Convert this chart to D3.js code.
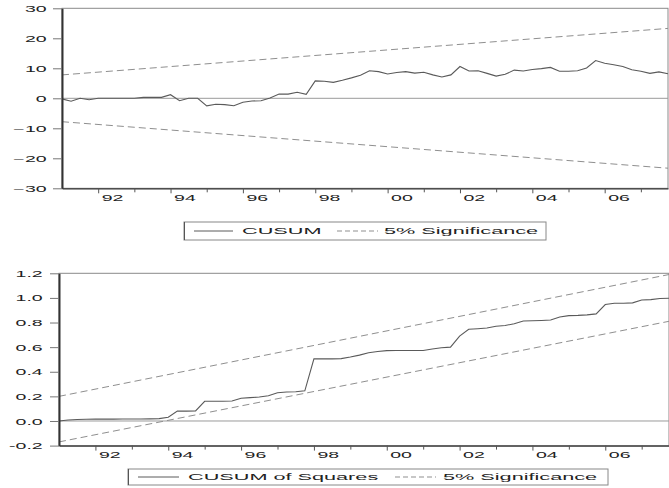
<!DOCTYPE html>
<html>
<head>
<meta charset="utf-8">
<script src="https://cdn.jsdelivr.net/npm/d3@7"></script>
<style>
  html, body { margin: 0; padding: 0; background: #fff; }
  svg { display: block; }
  text { font-family: "Liberation Sans", Arial, Helvetica, sans-serif; fill: #222; }
</style>
</head>
<body>
<svg id="chart" width="669" height="488"></svg>
<script>
// ---------------- data ----------------
const startYear = 1991;           // first quarter: 1991Q1
const nQuarters = 68;             // 1991Q1 .. 2007Q4
const dates = d3.range(nQuarters).map(i => startYear + i / 4);

const cusum = [
  -0.2, -1.0, 0.0, -0.5, 0.0, 0.0, 0.0, 0.0, 0.0, 0.3,
  0.3, 0.3, 1.2, -0.8, 0.0, 0.0, -2.5, -2.0, -2.1, -2.5,
  -1.3, -0.9, -0.8, 0.1, 1.4, 1.4, 2.0, 1.3, 5.8, 5.7,
  5.3, 6.0, 6.8, 7.7, 9.2, 8.9, 8.1, 8.6, 8.9, 8.4,
  8.7, 7.8, 7.1, 7.8, 10.6, 9.1, 9.2, 8.3, 7.4, 8.0,
  9.4, 9.1, 9.6, 9.9, 10.3, 9.0, 9.0, 9.2, 10.1, 12.6,
  11.7, 11.2, 10.6, 9.5, 9.0, 8.3, 8.8, 8.2
];
const cusumSq = [
  0.000, 0.008, 0.012, 0.014, 0.015, 0.015, 0.015, 0.016, 0.016, 0.016,
  0.017, 0.019, 0.030, 0.080, 0.080, 0.082, 0.160, 0.160, 0.160, 0.162,
  0.185, 0.190, 0.195, 0.205, 0.230, 0.235, 0.238, 0.245, 0.505, 0.505,
  0.505, 0.507, 0.520, 0.535, 0.555, 0.565, 0.572, 0.573, 0.573, 0.573,
  0.573, 0.585, 0.595, 0.600, 0.690, 0.745, 0.750, 0.755, 0.770, 0.776,
  0.790, 0.812, 0.815, 0.817, 0.820, 0.845, 0.856, 0.858, 0.862, 0.870,
  0.946, 0.957, 0.957, 0.960, 0.983, 0.986, 0.995, 0.997
];
// 5% significance bounds (straight lines: values at first and last date)
const sigDates = [dates[0], dates[nQuarters - 1]];
const cusumUpper = [7.8, 23.3];
const cusumLower = [-7.8, -23.3];
const sqUpper = [0.20, 1.19];
const sqLower = [-0.17, 0.81];

const cusumTicks = [-30, -20, -10, 0, 10, 20, 30];
const sqTicks = [-0.2, 0.0, 0.2, 0.4, 0.6, 0.8, 1.0, 1.2];
const majorYears = [1992, 1994, 1996, 1998, 2000, 2002, 2004, 2006];
const majorLabels = ["92", "94", "96", "98", "00", "02", "04", "06"];
const minorYears = [1993, 1995, 1997, 1999, 2001, 2003, 2005, 2007];

const legendTop = ["CUSUM", "5% Significance"];
const legendBottom = ["CUSUM of Squares", "5% Significance"];

// ---------------- drawing ----------------
const SX = 2.3;        // horizontal stretch of tick labels
const SXL = 2.55;      // horizontal stretch of legend labels
const FS = 8.5;        // font size
const svg = d3.select("#chart");

function stext(g, x, y, str, anchor) {
  return g.append("text")
    .attr("transform", `translate(${x},${y}) scale(${SXL},1)`)
    .attr("text-anchor", anchor || "start")
    .attr("font-size", FS)
    .attr("fill", "#2a2a2a")
    .text(str);
}

function panel(cfg) {
  const { left, right, top, bottom, yDomain, yTicks, yFmt, series, upper, lower, labelGap, legend } = cfg;
  const g = svg.append("g");
  const x = d3.scaleLinear().domain([dates[0], dates[nQuarters - 1]]).range([left, right]);
  const y = d3.scaleLinear().domain(yDomain).range([bottom, top]);

  // frame
  g.append("rect").attr("x", left).attr("y", top)
    .attr("width", right - left).attr("height", bottom - top)
    .attr("fill", "none").attr("stroke", "#8a8a8a").attr("stroke-width", 1);

  // zero line
  g.append("line").attr("x1", left).attr("x2", right)
    .attr("y1", y(0)).attr("y2", y(0))
    .attr("stroke", "#9a9a9a").attr("stroke-width", 1);

  // significance bands
  const sigLine = d3.line().x((d, i) => x(sigDates[i])).y(d => y(d));
  [upper, lower].forEach(arr => {
    g.append("path").datum(arr).attr("d", sigLine)
      .attr("fill", "none").attr("stroke", "#8f8f8f").attr("stroke-width", 1)
      .attr("stroke-dasharray", "7,4");
  });

  // main series
  const line = d3.line().x((d, i) => x(dates[i])).y(d => y(d));
  g.append("path").datum(series).attr("d", line)
    .attr("fill", "none").attr("stroke", "#5a5a5a").attr("stroke-width", 1.1);

  // y axis
  const ya = g.append("g").attr("transform", `translate(${left},0)`)
    .call(d3.axisLeft(y).tickValues(yTicks).tickSize(9).tickSizeOuter(0).tickFormat(yFmt));
  ya.select(".domain").attr("stroke", "#333").attr("stroke-width", 2);
  ya.selectAll(".tick line").attr("stroke", "#777");
  ya.selectAll(".tick text")
    .attr("x", -labelGap / SX).attr("dy", "0.36em")
    .attr("transform", `scale(${SX},1)`)
    .attr("font-size", FS).attr("font-family", null).attr("fill", "#2a2a2a");

  // x axis major
  const xa = g.append("g").attr("transform", `translate(0,${bottom})`)
    .call(d3.axisBottom(x).tickValues(majorYears).tickSize(5).tickSizeOuter(0)
      .tickFormat((d, i) => majorLabels[i]));
  xa.select(".domain").attr("stroke", "#333").attr("stroke-width", 1.2);
  xa.selectAll(".tick line").attr("stroke", "#555");
  xa.selectAll(".tick text")
    .attr("x", 3 / SX).attr("y", 12.3).attr("dy", 0)
    .attr("text-anchor", "start")
    .attr("transform", `scale(${SX},1)`)
    .attr("font-size", FS).attr("font-family", null).attr("fill", "#2a2a2a");

  // x axis minor
  const xm = g.append("g").attr("transform", `translate(0,${bottom})`)
    .call(d3.axisBottom(x).tickValues(minorYears.filter(v => v <= x.domain()[1] + 0.01)).tickSize(4).tickSizeOuter(0).tickFormat(""));
  xm.select(".domain").remove();
  xm.selectAll(".tick line").attr("stroke", "#555");

  // legend
  const L = legend;
  const lg = svg.append("g");
  lg.append("rect").attr("x", L.x0).attr("y", L.y0)
    .attr("width", L.x1 - L.x0).attr("height", L.y1 - L.y0)
    .attr("fill", "#fff").attr("stroke", "#888").attr("stroke-width", 1);
  lg.append("line").attr("x1", L.x0 + 0.5).attr("x2", L.x0 + 0.5).attr("y1", L.y0).attr("y2", L.y1)
    .attr("stroke", "#555").attr("stroke-width", 1);
  const cy = (L.y0 + L.y1) / 2;
  lg.append("line").attr("x1", L.s1[0]).attr("x2", L.s1[1]).attr("y1", cy).attr("y2", cy)
    .attr("stroke", "#5a5a5a").attr("stroke-width", 1);
  stext(lg, L.t1, L.base, L.labels[0]);
  lg.append("line").attr("x1", L.s2[0]).attr("x2", L.s2[1]).attr("y1", cy).attr("y2", cy)
    .attr("stroke", "#8f8f8f").attr("stroke-width", 1).attr("stroke-dasharray", "5,3");
  stext(lg, L.t2, L.base, L.labels[1]);
}

panel({
  left: 62, right: 668, top: 8.3, bottom: 188.3,
  yDomain: [-30, 30], yTicks: cusumTicks, yFmt: d3.format("d"),
  series: cusum, upper: cusumUpper, lower: cusumLower, labelGap: 15.3,
  legend: { x0: 184, x1: 546, y0: 222, y1: 240, base: 234.3,
            s1: [194, 233], t1: 242, s2: [337, 378], t2: 384, labels: legendTop }
});

panel({
  left: 59, right: 669, top: 273.3, bottom: 445.6,
  yDomain: [-0.2, 1.2], yTicks: sqTicks, yFmt: d => d3.format(".1f")(d).replace("−", "-"),
  series: cusumSq, upper: sqUpper, lower: sqLower, labelGap: 16.3,
  legend: { x0: 128, x1: 608, y0: 469, y1: 485, base: 480.3,
            s1: [138, 179], t1: 188, s2: [395, 436], t2: 443, labels: legendBottom }
});
</script>
</body>
</html>
